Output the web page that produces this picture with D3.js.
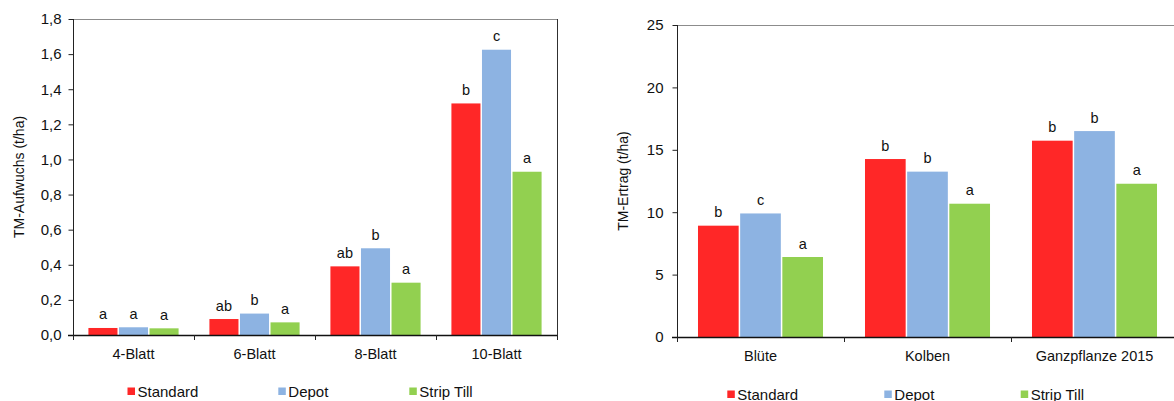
<!DOCTYPE html>
<html>
<head>
<meta charset="utf-8">
<script src="https://cdn.jsdelivr.net/npm/d3@7"></script>
<style>
  html, body { margin: 0; padding: 0; background: #fff; }
  svg { display: block; font-family: "Liberation Sans", Arial, sans-serif; }
</style>
</head>
<body>
<svg id="chart" width="1174" height="401"></svg>
<script>
// Treatments (series) and their colours
const series = ["Standard", "Depot", "Strip Till"];
const seriesColors = ["#ff2727", "#8db3e2", "#92d050"];

// Left panel: dry-matter growth by leaf stage
const stages = ["4-Blatt", "6-Blatt", "8-Blatt", "10-Blatt"];
const aufwuchsStandard = [0.040, 0.091, 0.391, 1.319];
const aufwuchsDepot    = [0.044, 0.122, 0.494, 1.625];
const aufwuchsStrip    = [0.038, 0.072, 0.298, 0.930];
const aufwuchsLetters  = [["a", "a", "a"], ["ab", "b", "a"], ["ab", "b", "a"], ["b", "c", "a"]];
const aufwuchsTicks    = [0, 0.2, 0.4, 0.6, 0.8, 1.0, 1.2, 1.4, 1.6, 1.8];

// Right panel: dry-matter yield by plant part
const parts = ["Blüte", "Kolben", "Ganzpflanze 2015"];
const ertragStandard = [8.92, 14.26, 15.73];
const ertragDepot    = [9.90, 13.25, 16.50];
const ertragStrip    = [6.41, 10.68, 12.28];
const ertragLetters  = [["b", "c", "a"], ["b", "b", "a"], ["b", "b", "a"]];
const ertragTicks    = [0, 5, 10, 15, 20, 25];

const svg = d3.select("#chart");
const fmtComma = d3.format(".1f");

function panel(cfg) {
  const g = svg.append("g");
  const x = d3.scaleBand().domain(cfg.categories).range([cfg.x0, cfg.x1]).padding(0);
  const inner = d3.scaleBand().domain(series).range([0, x.bandwidth()])
    .paddingInner(0).paddingOuter(0.48);
  const y = d3.scaleLinear().domain([0, cfg.yMax]).range([cfg.y0, cfg.y1]);

  // plot-area frame (top and right)
  g.append("line")
    .attr("x1", cfg.x0).attr("x2", cfg.x1)
    .attr("y1", cfg.y1 + 0.5).attr("y2", cfg.y1 + 0.5)
    .attr("stroke", "#8c8c8c").attr("stroke-width", 1);
  g.append("line")
    .attr("x1", cfg.x1 + 0.5).attr("x2", cfg.x1 + 0.5)
    .attr("y1", cfg.y1).attr("y2", cfg.y0)
    .attr("stroke", "#303030").attr("stroke-width", 1);

  // bars
  const rows = cfg.categories.map((c, i) => ({
    cat: c,
    vals: [cfg.values[0][i], cfg.values[1][i], cfg.values[2][i]],
    letters: cfg.letters[i]
  }));
  const grp = g.selectAll(".grp").data(rows).join("g")
    .attr("transform", d => `translate(${x(d.cat)},0)`);
  grp.selectAll("rect")
    .data(d => d.vals.map((v, k) => ({ v, k })))
    .join("rect")
    .attr("x", d => inner(series[d.k]) + 0.75)
    .attr("width", inner.bandwidth() - 1.5)
    .attr("y", d => y(d.v))
    .attr("height", d => y(0) - y(d.v))
    .attr("fill", d => seriesColors[d.k]);
  grp.selectAll("text.sig")
    .data(d => d.vals.map((v, k) => ({ v, k, t: d.letters[k] })))
    .join("text")
    .attr("class", "sig")
    .attr("x", d => inner(series[d.k]) + inner.bandwidth() / 2)
    .attr("y", d => y(d.v) - 8.5)
    .attr("text-anchor", "middle")
    .attr("font-size", 14.5)
    .attr("fill", "#111")
    .text(d => d.t);

  // y axis
  const yAxis = d3.axisLeft(y).tickValues(cfg.ticks).tickSize(5)
    .tickPadding(cfg.tickPad).tickFormat(cfg.format);
  const ya = g.append("g").attr("transform", `translate(${cfg.x0 + 0.5},0)`).call(yAxis);
  ya.select(".domain").attr("stroke", "#222").attr("d", `M0,${cfg.y1}V${cfg.y0 + 5}`);
  ya.selectAll(".tick line").attr("stroke", "#222");
  ya.selectAll(".tick text").attr("font-size", 15).attr("fill", "#111")
    .attr("font-family", "Liberation Sans, Arial, sans-serif");

  // x axis line and category separators
  const edges = cfg.categories.map(c => x(c)).concat([cfg.x1]);
  g.append("line")
    .attr("x1", cfg.x0 - 5).attr("x2", cfg.x1)
    .attr("y1", cfg.y0 + 0.5).attr("y2", cfg.y0 + 0.5)
    .attr("stroke", "#111").attr("stroke-width", 1.3);
  g.selectAll(".sep").data(edges).join("line")
    .attr("x1", d => Math.round(d) + 0.5).attr("x2", d => Math.round(d) + 0.5)
    .attr("y1", cfg.y0).attr("y2", cfg.y0 + 5)
    .attr("stroke", "#222");
  g.selectAll(".cat").data(cfg.categories).join("text")
    .attr("x", d => x(d) + x.bandwidth() / 2)
    .attr("y", cfg.catY)
    .attr("text-anchor", "middle")
    .attr("font-size", 14.5)
    .attr("fill", "#111")
    .text(d => d);

  // y title
  g.append("text")
    .attr("transform", `translate(${cfg.titleX},${(cfg.y0 + cfg.y1) / 2}) rotate(-90)`)
    .attr("text-anchor", "middle")
    .attr("font-size", 14)
    .attr("fill", "#111")
    .text(cfg.title);

  // legend
  const lg = g.append("g").attr("transform", `translate(${cfg.legendX},${cfg.legendY})`);
  const items = lg.selectAll("g").data(series).join("g")
    .attr("transform", (d, i) => `translate(${cfg.legendOffsets[i]},0)`);
  items.append("rect").attr("x", 0).attr("y", -3.5).attr("width", 7.5).attr("height", 7.5)
    .attr("fill", (d, i) => seriesColors[i]);
  items.append("text").attr("x", 10).attr("y", 5.5)
    .attr("font-size", 15).attr("fill", "#111").text(d => d);
}

panel({
  categories: stages,
  values: [aufwuchsStandard, aufwuchsDepot, aufwuchsStrip],
  letters: aufwuchsLetters,
  ticks: aufwuchsTicks,
  format: v => fmtComma(v).replace(".", ","),
  yMax: 1.8,
  x0: 73, x1: 557, y0: 335, y1: 19,
  tickPad: 7,
  catY: 358.5,
  title: "TM-Aufwuchs (t/ha)",
  titleX: 23.5,
  legendX: 127.5, legendY: 391,
  legendOffsets: [0, 150.8, 281.8]
});

panel({
  categories: parts,
  values: [ertragStandard, ertragDepot, ertragStrip],
  letters: ertragLetters,
  ticks: ertragTicks,
  format: d3.format("d"),
  yMax: 25,
  x0: 677, x1: 1178, y0: 337, y1: 25,
  tickPad: 9,
  catY: 360.7,
  title: "TM-Ertrag (t/ha)",
  titleX: 628,
  legendX: 727.3, legendY: 394,
  legendOffsets: [0, 157, 293.4]
});
</script>
</body>
</html>
